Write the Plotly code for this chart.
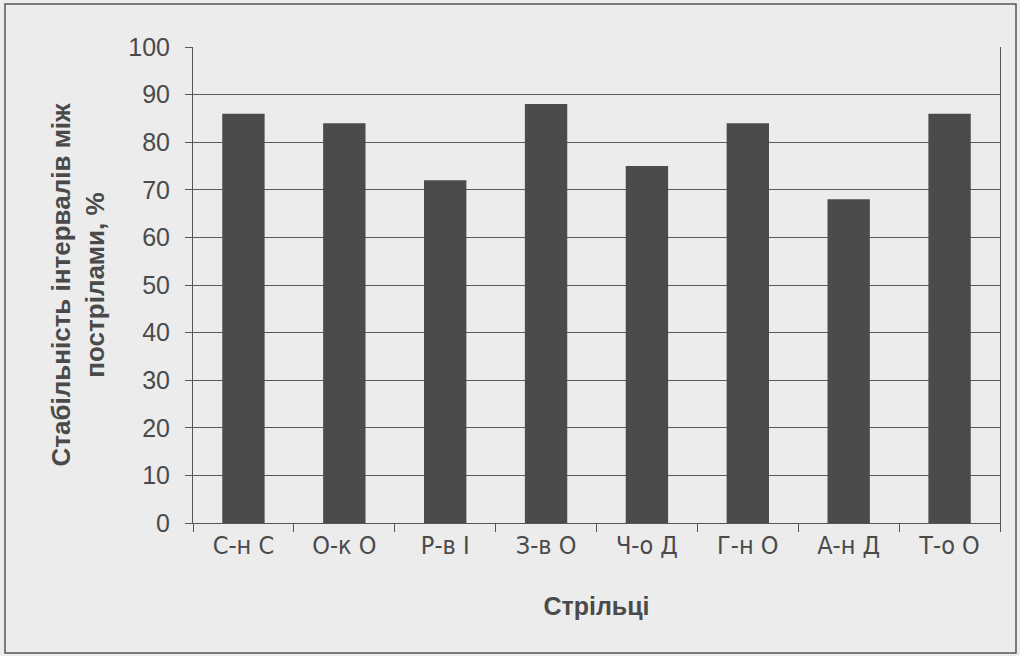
import plotly.graph_objects as go

categories = ["С-н С", "О-к О", "Р-в І", "З-в О", "Ч-о Д", "Г-н О", "А-н Д", "Т-о О"]
values = [86, 84, 72, 88, 75, 84, 68, 86]
y_ticks = [0, 10, 20, 30, 40, 50, 60, 70, 80, 90, 100]

W, H = 1020, 656
ML, MR, MT, MB = 193, 20, 47, 133
pw, ph = W - ML - MR, H - MT - MB

fig = go.Figure(go.Bar(
    x=categories, y=values,
    marker=dict(color="#4c4b4c", line=dict(width=0)),
    width=0.42,
))

font_main = "Liberation Sans, Arial, sans-serif"
text_col = "#4a4a4a"
axis_col = "#555555"

fig.update_layout(
    width=W, height=H,
    margin=dict(l=ML, r=MR, t=MT, b=MB),
    paper_bgcolor="#ececec",
    plot_bgcolor="#ececec",
    showlegend=False,
    font=dict(family=font_main, color=text_col, size=25),
    xaxis=dict(
        type="category",
        tickson="boundaries",
        ticks="outside", ticklen=8, tickcolor=axis_col,
        showline=True, linecolor=axis_col, linewidth=1,
        showgrid=False,
        tickfont=dict(family="Liberation Sans Narrow, Arial Narrow, DejaVu Sans Condensed, sans-serif",
                      size=25, color=text_col),
        title=dict(text="<b>Стрільці</b>", font=dict(size=25, color=text_col), standoff=38),
    ),
    yaxis=dict(
        range=[0, 100],
        tickvals=y_ticks,
        ticks="outside", ticklen=7, tickcolor=axis_col,
        ticklabelstandoff=10,
        showline=True, linecolor=axis_col, linewidth=1, mirror=True,
        showgrid=True, gridcolor="#5a5a5a", gridwidth=1,
        zeroline=False,
        tickfont=dict(size=25, color=text_col),
        title=dict(text="<b>Стабільність інтервалів між<br>пострілами, %</b>",
                   font=dict(size=26, color=text_col), standoff=16),
    ),
    bargap=0.58,
)

# outer border frame around the whole figure
fig.add_shape(
    type="rect", xref="paper", yref="paper",
    x0=(5 - ML) / pw, x1=(W - 4 - ML) / pw,
    y0=-(H - 3 - MT - ph) / ph, y1=(MT - 4) / ph + 1,
    line=dict(color="#555555", width=1.5), layer="below",
)

fig.write_html("out.html", post_script="document.body.style.margin='0';",
               config={"displayModeBar": False})
